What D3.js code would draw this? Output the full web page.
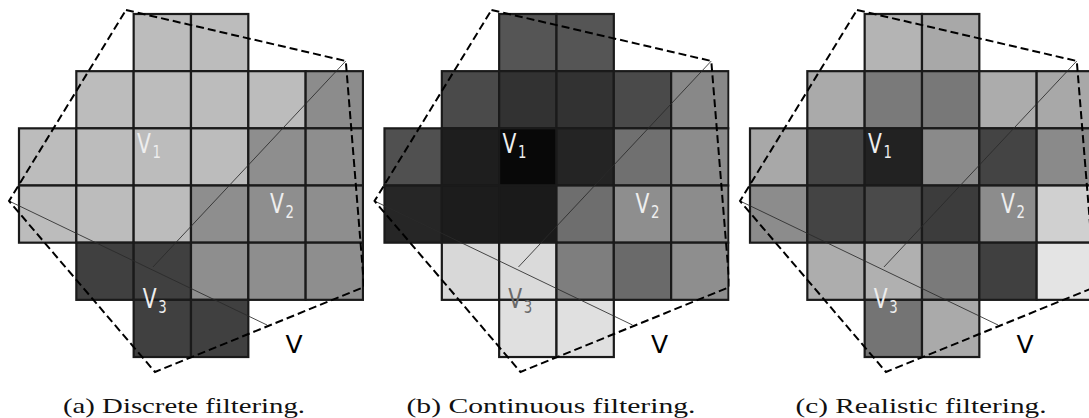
<!DOCTYPE html>
<html><head><meta charset="utf-8">
<script src="https://cdn.jsdelivr.net/npm/d3@7"></script>
<style>body{margin:0;background:#fff}svg{display:block}</style>
</head><body>
<svg id="chart" width="1089" height="418"></svg>
<script>
// Gray levels (0=black, 255=white) per cell, rows top->bottom, columns left->right; null = no cell
const discreteValues = [
  [null,null,188,188,null,null],
  [null,188,188,188,188,140],
  [188,188,188,188,142,142],
  [188,188,188,142,142,142],
  [null,64,64,142,142,142],
  [null,null,64,64,null,null]
];
const continuousValues = [
  [null,null,85,85,null,null],
  [null,74,50,50,74,136],
  [80,30,8,36,112,140],
  [38,28,26,110,142,140],
  [null,216,218,126,106,142],
  [null,null,224,224,null,null]
];
const realisticValues = [
  [null,null,180,168,null,null],
  [null,170,122,120,172,168],
  [168,68,34,138,68,138],
  [140,68,74,60,140,208],
  [null,173,176,122,64,228],
  [null,null,116,170,null,null]
];
const panels = [
  {key:"a", values: discreteValues, caption:"(a) Discrete filtering.", v3color:"#eeeeee"},
  {key:"b", values: continuousValues, caption:"(b) Continuous filtering.", v3color:"#6a6a6a"},
  {key:"c", values: realisticValues, caption:"(c) Realistic filtering.", v3color:"#eeeeee"}
];
const panelOffsets = [19, 384.5, 750];
const captionX = [184, 551, 921];
const captionWidth = [242, 289, 251];
// footprint outline (grid units)
const footprint = [[1.866,-0.07],[5.70,0.822],[6.02,4.775],[2.372,6.262],[-0.174,3.271]];
const thinLines = [[[5.70,0.822],[2.337,4.425]], [[-0.174,3.271],[4.326,5.44]]];
const labels = [
  {t:"V", sub:"1", u:2.06, v:2.43, fill:"#eeeeee"},
  {t:"V", sub:"2", u:4.38, v:3.48, fill:"#eeeeee"},
  {t:"V", sub:"3", u:2.16, v:5.15, fill:null},
  {t:"V", sub:"", u:4.65, v:5.93, fill:"#000000"}
];

const svg = d3.select("#chart");
const cellW = 57.33, cellH = 57.17, gridTop = 14;

panels.forEach((p, i) => {
  const x0 = panelOffsets[i];
  const x = d3.scaleLinear().domain([0,6]).range([x0, x0 + 6*cellW]);
  const y = d3.scaleLinear().domain([0,6]).range([gridTop, gridTop + 6*cellH]);
  const clipId = "clip" + p.key;
  svg.append("clipPath").attr("id", clipId).append("rect")
    .attr("x", x0 - 40).attr("y", 0).attr("width", 6*cellW + 41).attr("height", 390);
  const g = svg.append("g").attr("clip-path", `url(#${clipId})`);

  const cells = [];
  p.values.forEach((row, r) => row.forEach((val, c) => { if (val !== null) cells.push({r, c, val}); }));
  g.selectAll("rect.cell").data(cells).join("rect")
    .attr("class","cell")
    .attr("x", d => x(d.c)).attr("y", d => y(d.r))
    .attr("width", x(1) - x(0)).attr("height", y(1) - y(0))
    .attr("fill", d => d3.rgb(d.val, d.val, d.val))
    .attr("stroke", "#1a1a1a").attr("stroke-width", 2.2);

  const line = d3.line().x(d => x(d[0])).y(d => y(d[1]));
  thinLines.forEach(l => {
    g.append("path").attr("d", line(l)).attr("fill","none")
      .attr("stroke","#2a2a2a").attr("stroke-width",1).attr("stroke-opacity",0.85);
  });
  g.append("path").attr("d", line(footprint) + "Z").attr("fill","none")
    .attr("stroke","#000").attr("stroke-width",2).attr("stroke-dasharray","8,4");

  labels.forEach(lb => {
    const lx = x(lb.u), ly = y(lb.v);
    const t = g.append("text")
      .attr("transform", lb.sub ? `translate(${lx},${ly}) scale(0.78,1)` : `translate(${lx},${ly})`)
      .attr("font-family","DejaVu Sans, sans-serif").attr("font-size", lb.sub ? 26 : 25)
      .attr("fill", lb.fill || p.v3color);
    t.append("tspan").text(lb.t);
    if (lb.sub) t.append("tspan").attr("dx", 2).attr("dy", 5).attr("font-size", 17).text(lb.sub);
  });

  svg.append("text").attr("x", captionX[i]).attr("y", 413)
    .attr("text-anchor","middle")
    .attr("font-family","Liberation Serif, serif").attr("font-size", 21)
    .attr("textLength", captionWidth[i]).attr("lengthAdjust","spacingAndGlyphs")
    .attr("fill","#111").text(p.caption);
});
</script>
</body></html>
